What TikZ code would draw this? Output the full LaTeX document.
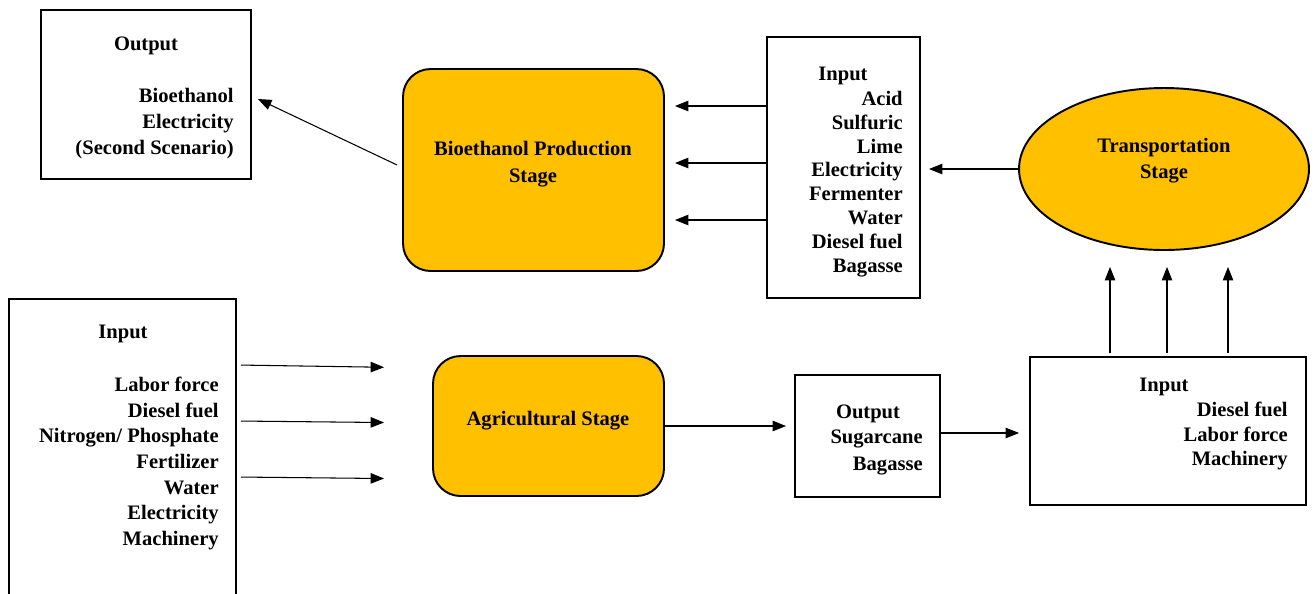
\documentclass[tikz,border=0pt]{standalone}
\usepackage{fontspec}
\setmainfont{Liberation Serif}
\usetikzlibrary{positioning,arrows.meta,shapes.geometric,calc}
\definecolor{stagegold}{HTML}{FFC000}
\tikzset{
    box/.style={draw, line width=1.1pt, rectangle, inner sep=0},
    stage/.style={draw, line width=1.1pt, fill=stagegold, rounded corners=0.55cm, inner sep=0},
    arr/.style={-{Triangle[length=0.27cm,width=0.21cm]}, line width=0.6pt},
    txt/.style={font=\bfseries\fontsize{11.7}{#1}\selectfont, inner sep=0, yshift=-0.06cm},
    txt/.default=14.6
}

\begin{document}
\begin{tikzpicture}[x=0.02cm,y=-0.02cm]
    \clip (0,0) rectangle (1314,593);

    % Output (top left)
    \node[box, minimum width=4.2cm, minimum height=3.38cm] (outTop) at (146,94.5) {};
    \node[txt] (outTopHead) at (146,43) {Output};
    \node[txt=15, align=right, anchor=east] (outTopList) at (234,120.5) {Bioethanol\\Electricity\hspace*{0.1cm}\\(Second Scenario)};

    % Bioethanol production
    \node[stage, minimum width=5.22cm, minimum height=4.04cm] (bioStage) at (533.5,170) {};
    \node[txt=15.3, align=center] (bioStageTxt) at (533,161.5) {Bioethanol Production\\Stage};

    \node[box, minimum width=3.06cm, minimum height=5.22cm] (inBio) at (843.5,167.5) {};
    \node[txt] (inBioHead) at (843,73) {Input};
    \node[txt=13.6, align=right, anchor=east] (inBioList) at (903,181) {Acid\\Sulfuric\\Lime\\Electricity\\Fermenter\\Water\\Diesel fuel\\Bagasse};

    % Transportation
    \node[ellipse, draw, line width=1.1pt, fill=stagegold, inner sep=0, minimum width=5.8cm, minimum height=3.24cm] (transp) at (1164,169) {};
    \node[txt=14.7, align=center] (transpTxt) at (1164,158) {Transportation\\Stage};

    % Agricultural
    \node[box, minimum width=4.54cm, minimum height=6.4cm] (inAgri) at (122.5,459) {};
    \node[txt] (inAgriHead) at (123,331) {Input};
    \node[txt, align=right, anchor=east] (inAgriList) at (219,460.5) {Labor force\\Diesel fuel\\Nitrogen/ Phosphate\\Fertilizer\\Water\\Electricity\\Machinery};

    \node[stage, minimum width=4.62cm, minimum height=2.8cm] (agri) at (548.5,426) {};
    \node[txt] (agriTxt) at (548,418) {Agricultural Stage};

    \node[box, minimum width=2.9cm, minimum height=2.44cm] (outSug) at (867.5,436) {};
    \node[txt] (outSugHead) at (868,411) {Output};
    \node[txt=15.3, align=right, anchor=east] (outSugList) at (923,449.5) {Sugarcane\\Bagasse};

    \node[box, minimum width=5.52cm, minimum height=2.96cm] (inTr) at (1168,431) {};
    \node[txt] (inTrHead) at (1164,384) {Input};
    \node[txt=14.2, align=right, anchor=east] (inTrList) at (1288,433) {Diesel fuel\\Labor force\\Machinery};

    % Setas
    \draw[arr] ($(bioStage.west)+(-5,-5)$) -- ($(outTop.east)+(6,4.5)$);
    \foreach \y in {106,163,220}
        \draw[arr, shorten >=0.2cm] (inBio.west |- 0,\y) -- (bioStage.east |- 0,\y);
    \draw[arr, shorten >=0.16cm] (transp.west) -- (inBio.east |- transp.west);
    \foreach \y/\z in {365/368,421/423,477/479}
        \draw[arr, shorten <=0.08cm, shorten >=0.96cm] (inAgri.east |- 0,\y) -- (agri.west |- 0,\z);
    \draw[arr, shorten >=0.16cm] (agri.east) -- (outSug.west |- agri.east);
    \draw[arr, shorten >=0.2cm] (outSug.east |- 0,433) -- (inTr.west |- 0,433);
    \foreach \x in {1110,1167,1228}
        \draw[arr, shorten <=0.06cm, shorten >=0.32cm] (\x,0 |- inTr.north) -- (\x,0 |- transp.south);
\end{tikzpicture}
\end{document}
